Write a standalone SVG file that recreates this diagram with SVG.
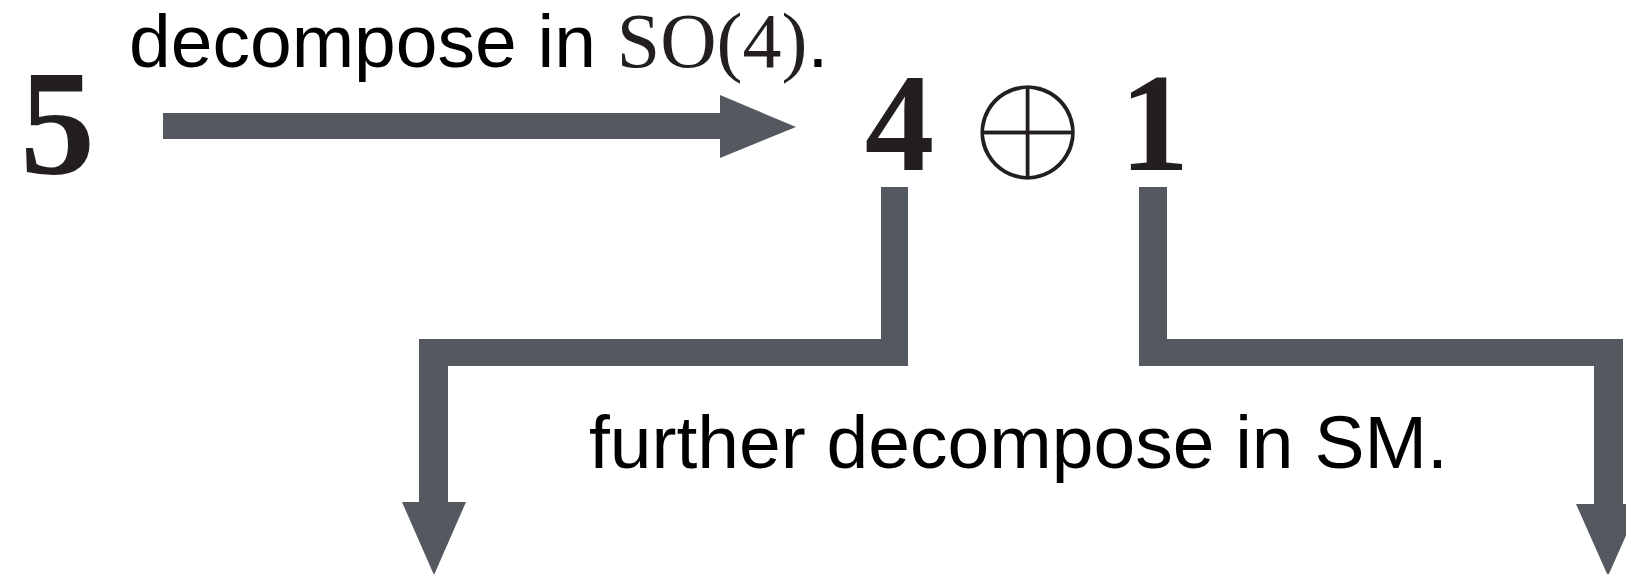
<svg xmlns="http://www.w3.org/2000/svg" width="1626" height="574" viewBox="0 0 1626 574">
  <style>
    .label { font-family: "Liberation Sans", Arial, sans-serif; font-size: 75px; fill: #000; }
    .math { font-family: "Liberation Serif", "Times New Roman", serif; fill: #231f20; }
    .rep { font-family: "Liberation Serif", "Times New Roman", serif; font-weight: bold; fill: #231f20; text-anchor: middle; }
    .oplus { font-family: "DejaVu Serif", serif; fill: #231f20; text-anchor: middle; stroke: #ffffff; stroke-width: 9px; stroke-linejoin: miter; stroke-miterlimit: 10; }
    .arrow { fill: #54585f; }
  </style>
  <rect width="1626" height="574" fill="#ffffff"/>

  <!-- source representation -->
  <g id="node-5">
    <text class="rep" x="57.5" y="174" font-size="150">5</text>
  </g>

  <!-- decomposition 4 ⊕ 1 (white stroke thins the circled plus to a hairline) -->
  <g id="node-4">
    <text class="rep" x="899.5" y="170" font-size="139">4</text>
  </g>
  <g id="node-oplus">
    <text class="oplus" x="1027.5" y="184" font-size="165">⊕</text>
  </g>
  <g id="node-1">
    <text class="rep" x="1154.5" y="170" font-size="139">1</text>
  </g>

  <!-- labels -->
  <g id="label-top">
    <text class="label" x="129" y="67">decompose in <tspan class="math" font-size="78">SO(4)</tspan>.</text>
  </g>
  <g id="label-bottom">
    <text class="label" x="589" y="468">further decompose in SM.</text>
  </g>

  <!-- connectors -->
  <g id="connectors">
    <path class="arrow" d="M163,113 H720 V95 L796,127 L720,158 V139 H163 Z"/>
    <path class="arrow" d="M881,187 H908 V366 H448 V502 H466 L434,575 L402,502 H419 V339 H881 Z"/>
    <path class="arrow" d="M1139,187 H1167 V339 H1623 V504 H1640 L1608,576 L1576,504 H1594 V366 H1139 Z"/>
  </g>
</svg>
